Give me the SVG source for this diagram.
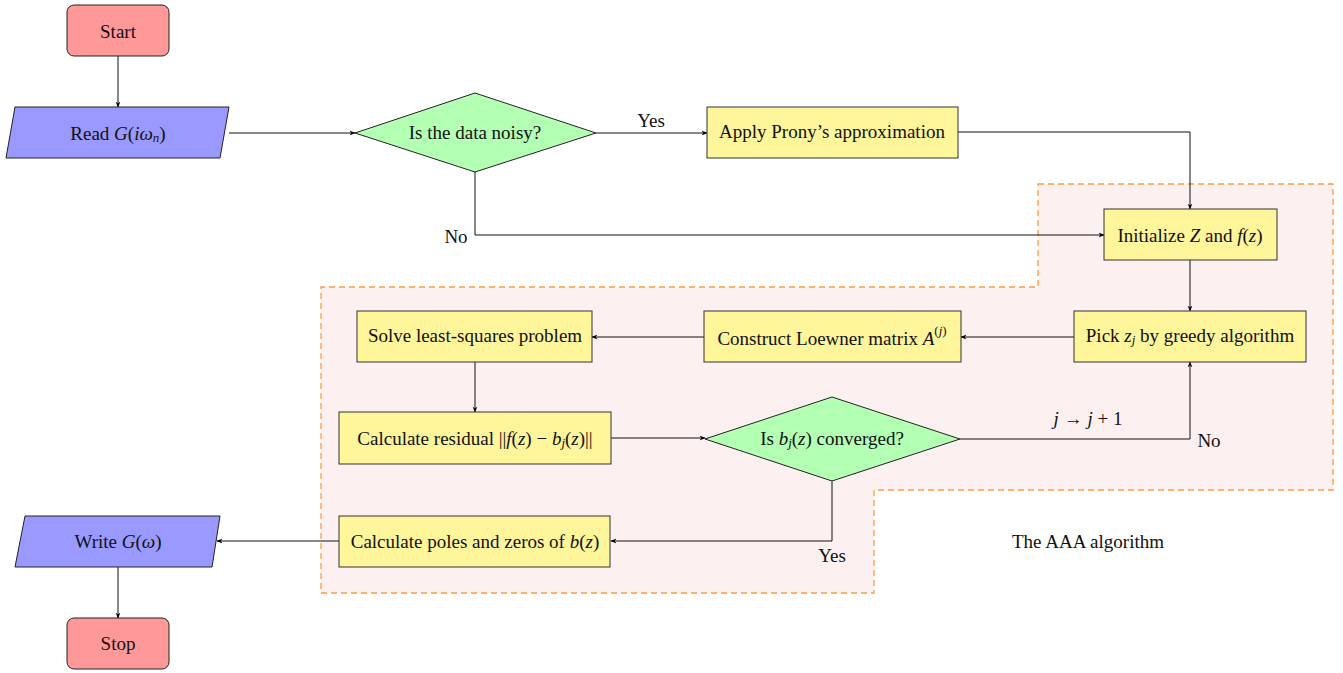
<svg xmlns="http://www.w3.org/2000/svg" width="1343" height="673" viewBox="0 0 1343 673">
<defs>
<marker id="ah" viewBox="0 0 10 10" refX="9" refY="5" markerWidth="6" markerHeight="6" orient="auto" markerUnits="userSpaceOnUse">
<path d="M0,1 L10,5 L0,9 L3,5 z" fill="#000"/>
</marker>
<style>
text{font-family:"Liberation Serif","DejaVu Serif",serif;font-size:19px;fill:#111;text-anchor:middle;dominant-baseline:central}
.m{font-style:italic}
.s{font-size:13px}
.term{fill:#ff9999;stroke:#222;stroke-width:1}
.io{fill:#9999ff;stroke:#222;stroke-width:1}
.proc{fill:#fff59a;stroke:#333;stroke-width:1}
.dec{fill:#b3ffb3;stroke:#222;stroke-width:1}
.edge{fill:none;stroke:#111;stroke-width:1;marker-end:url(#ah)}
.region{fill:#fdf0f0;stroke:#ff9a3c;stroke-width:1.3;stroke-dasharray:6,4}
</style>
</defs>
<rect width="1343" height="673" fill="#fff"/>
<g id="aaa-region">
<polygon class="region" points="1038,184 1333,184 1333,490 874,490 874,593 321,593 321,287 1038,287"/>
<text x="1088" y="541">The AAA algorithm</text>
</g>
<g id="connectors">
<path class="edge" d="M118,56 V107"/>
<path class="edge" d="M229,133 H355"/>
<path class="edge" d="M596,133 H707"/>
<text x="651" y="120">Yes</text>
<path class="edge" d="M958,132 H1190 V209"/>
<path class="edge" d="M475,172 V235 H1104"/>
<text x="456" y="236">No</text>
<path class="edge" d="M1190,260 V311"/>
<path class="edge" d="M1074,337 H961"/>
<path class="edge" d="M704,337 H592"/>
<path class="edge" d="M475,362 V412"/>
<path class="edge" d="M611,438 H705"/>
<path class="edge" d="M960,439 H1190 V362"/>
<text x="1209" y="440">No</text>
<text x="1088" y="418"><tspan class="m">j</tspan> → <tspan class="m">j</tspan> + 1</text>
<path class="edge" d="M832,481 V541 H611"/>
<text x="832" y="555">Yes</text>
<path class="edge" d="M339,541 H217"/>
<path class="edge" d="M118,567 V618"/>
</g>
<g id="start">
<rect class="term" x="67" y="5" width="102" height="51" rx="7"/>
<text x="118" y="31">Start</text>
</g>
<g id="read">
<polygon class="io" points="15,107 229,107 220,158 6,158"/>
<text x="118" y="133">Read <tspan class="m">G</tspan>(<tspan class="m">iω</tspan><tspan class="m s" dy="4">n</tspan><tspan dy="-4">)</tspan></text>
</g>
<g id="noisy">
<polygon class="dec" points="355,133 475,93 596,133 475,172"/>
<text x="475" y="132">Is the data noisy?</text>
</g>
<g id="prony">
<rect class="proc" x="707" y="107" width="251" height="51"/>
<text x="832" y="131">Apply Prony’s approximation</text>
</g>
<g id="init">
<rect class="proc" x="1104" y="209" width="173" height="51"/>
<text x="1190" y="235">Initialize <tspan class="m">Z</tspan> and <tspan class="m">f</tspan>(<tspan class="m">z</tspan>)</text>
</g>
<g id="pick">
<rect class="proc" x="1074" y="311" width="232" height="51"/>
<text x="1190" y="335">Pick <tspan class="m">z</tspan><tspan class="m s" dy="4">j</tspan><tspan dy="-4"> by greedy algorithm</tspan></text>
</g>
<g id="loewner">
<rect class="proc" x="704" y="311" width="257" height="51"/>
<text x="832" y="338">Construct Loewner matrix <tspan class="m">A</tspan><tspan class="s" dy="-8">(</tspan><tspan class="m s">j</tspan><tspan class="s">)</tspan></text>
</g>
<g id="lsq">
<rect class="proc" x="357" y="311" width="235" height="51"/>
<text x="475" y="335">Solve least-squares problem</text>
</g>
<g id="residual">
<rect class="proc" x="339" y="412" width="272" height="52"/>
<text x="475" y="438">Calculate residual ||<tspan class="m">f</tspan>(<tspan class="m">z</tspan>) − <tspan class="m">b</tspan><tspan class="m s" dy="4">j</tspan><tspan dy="-4">(</tspan><tspan class="m">z</tspan>)||</text>
</g>
<g id="converged">
<polygon class="dec" points="705,439 832,397 960,439 832,481"/>
<text x="832" y="438">Is <tspan class="m">b</tspan><tspan class="m s" dy="4">j</tspan><tspan dy="-4">(</tspan><tspan class="m">z</tspan>) converged?</text>
</g>
<g id="poles">
<rect class="proc" x="339" y="516" width="271" height="51"/>
<text x="475" y="541">Calculate poles and zeros of <tspan class="m">b</tspan>(<tspan class="m">z</tspan>)</text>
</g>
<g id="write">
<polygon class="io" points="25,516 220,516 212,567 15,567"/>
<text x="118" y="541">Write <tspan class="m">G</tspan>(<tspan class="m">ω</tspan>)</text>
</g>
<g id="stop">
<rect class="term" x="67" y="618" width="102" height="51" rx="7"/>
<text x="118" y="643">Stop</text>
</g>
</svg>
